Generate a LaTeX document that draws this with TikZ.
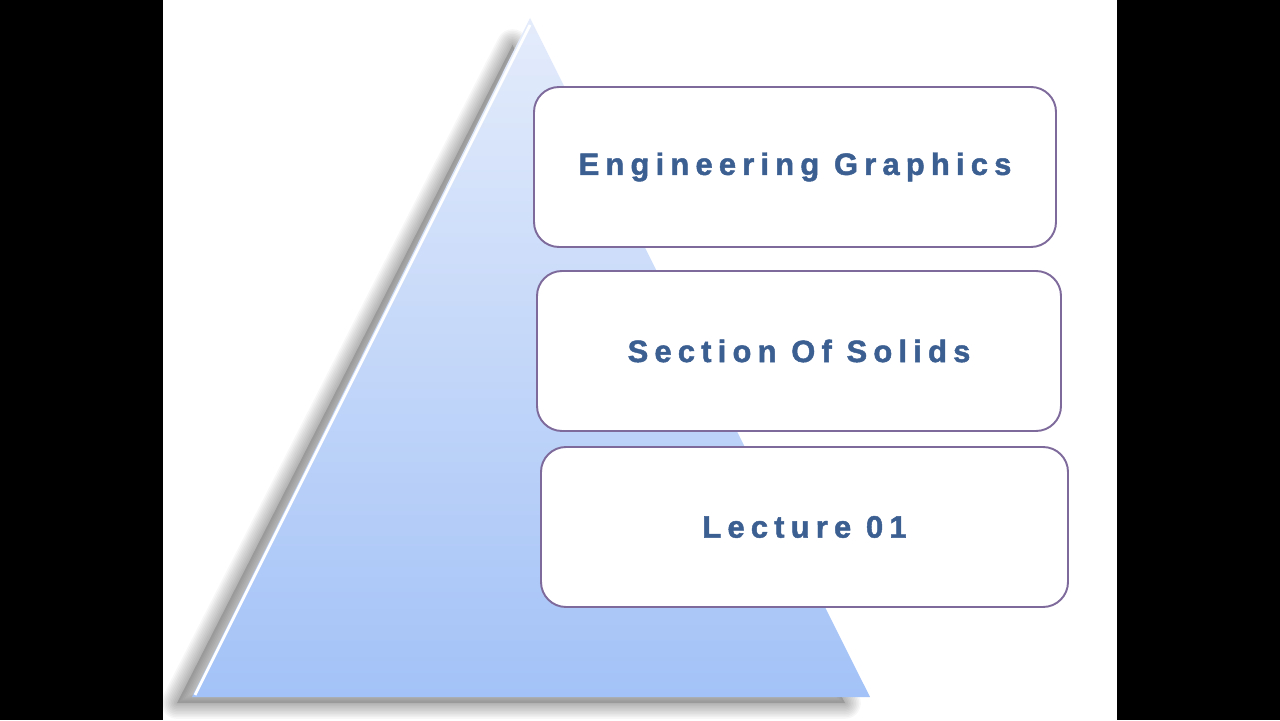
\documentclass[tikz,border=0pt]{standalone}
\usepackage{fontspec}
\setmainfont{Liberation Sans}
\newfontfamily\slidefont{Liberation Sans Bold}[LetterSpace=20,FakeBold=1.5]
\definecolor{boxedge}{HTML}{7E6B9C}
\definecolor{boxtext}{HTML}{3C5F92}
\definecolor{pyrtop}{HTML}{E4ECFB}
\definecolor{pyrbottom}{HTML}{A3C2F7}
\tikzset{
    titlebox/.style={draw=boxedge, line width=1.1pt, fill=white, rounded corners=0.5cm,
        minimum height=3.2cm, inner sep=0pt,
        font=\slidefont\fontsize{17.6}{20}\selectfont, text=boxtext},
}
\begin{document}
\begin{tikzpicture}
                \useasboundingbox (0, 0) rectangle (25.6, 14.4);
                \fill[black] (0, 0) rectangle (25.6, 14.4);
                \fill[white] (3.26, 0) rectangle (22.34, 14.4);

                % soft shadow of the pyramid
                \fill[black, opacity=0.15] (10.25, 13.5) -- (3.54, 0.34) -- (16.9, 0.34) -- cycle;
                \foreach \k in {1,...,10}
                    \draw[black, opacity=0.03, line width=\k*1.8pt, line join=round]
                        (10.25, 13.5) -- (3.54, 0.34) -- (16.9, 0.34) -- cycle;

                \shade[top color=pyrtop, bottom color=pyrbottom]
                    (10.6, 14.04) -- (3.84, 0.46) -- (17.4, 0.46) -- cycle;
                \draw[white, line width=1.6pt] (10.6, 13.9) -- (3.9, 0.5);

                \node[titlebox, minimum width=10.44cm] (graphics) at (15.9, 11.06) {Engineering Graphics};
                \node[titlebox, minimum width=10.48cm] (solids) at (15.98, 7.38) {Section Of Solids};
                \node[titlebox, minimum width=10.54cm] (lecture) at (16.09, 3.86) {Lecture 01};
            \end{tikzpicture}
\end{document}
